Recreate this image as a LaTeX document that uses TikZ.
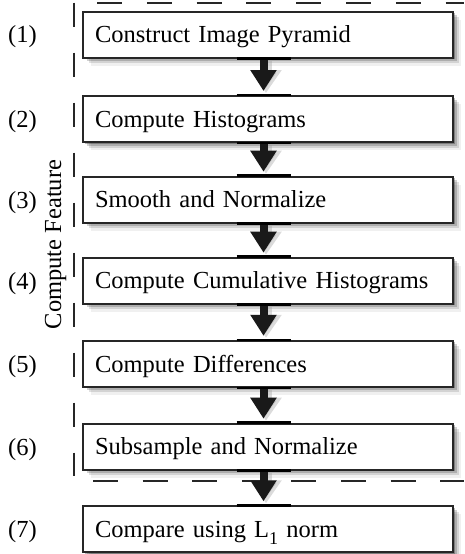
\documentclass[tikz,border=0pt]{standalone}
\usepackage{fontspec}
\setmainfont{Liberation Serif}
\usetikzlibrary{shadows,arrows.meta}
\newfontfamily\diagfont{Liberation Serif}
\tikzset{
  boxshadow/.style={
    drop shadow={shadow xshift=1.5pt, shadow yshift=-1.5pt, opacity=0.28, fill=black},
    drop shadow={shadow xshift=3.5pt, shadow yshift=-3.5pt, opacity=0.18, fill=black},
    drop shadow={shadow xshift=5.5pt, shadow yshift=-5.5pt, opacity=0.12, fill=black},
    drop shadow={shadow xshift=8pt, shadow yshift=-8pt, opacity=0.06, fill=black}},
  stepbox/.style={boxshadow, draw=black!85, line width=2pt, fill=white,
    minimum width=370pt, minimum height=46pt, text width=346pt, align=left,
    inner xsep=12pt, inner ysep=0pt, text height=16.5pt, text depth=0pt,
    font=\diagfont\fontsize{24.5}{29}\selectfont},
  numlabel/.style={anchor=base, inner sep=0pt, font=\diagfont\fontsize{24.5}{29}\selectfont},
  bigarrow/.style={draw=black!90, line width=8pt, shorten >=4pt,
    -{Triangle[width=25pt,length=21pt]}},
  arrowshadow/.style={draw=black!40, opacity=0.35, line width=12pt, shorten >=4pt,
    -{Triangle[width=30pt,length=23pt]}},
  crossbar/.style={draw=black, line width=2.6pt},
  dashline/.style={draw=black!85, line width=2pt},
}
\begin{document}
\begin{tikzpicture}[x=1pt,y=-1pt]
\useasboundingbox (0,0) rectangle (464,554);
% dashed frame
\draw[dashline, dash pattern=on 24pt off 26pt] (74,2.5) -- (74,476);
\draw[dashline, dash pattern=on 25pt off 24.8pt] (97,2.5) -- (464,2.5);
\draw[dashline, dash pattern=on 25pt off 24.6pt] (93,481) -- (464,481);
% boxes
\node[stepbox] (b1) at (268,34.5) {Construct Image Pyramid};
\node[stepbox] (b2) at (268,119) {Compute Histograms};
\node[stepbox] (b3) at (268,199.7) {Smooth and Normalize};
\node[stepbox] (b4) at (268,280.7) {Compute Cumulative Histograms};
\node[stepbox] (b5) at (268,363.8) {Compute Differences};
\node[stepbox] (b6) at (268,446.7) {Subsample and Normalize};
\node[stepbox] (b7) at (268,529.3) {Compare using L\raisebox{-6.5pt}{\fontsize{18}{18}\selectfont 1} norm};
% labels
\foreach \i/\y in {1/34.5,2/119,3/199.7,4/280.7,5/363.8,6/446.7,7/529.3}{
  \node[numlabel] (l\i) at (22.5,\y+8.3) {(\i)};
}
\node[numlabel, rotate=90] (cf) at (61,244.5) {Compute Feature};
% arrows
\foreach \a/\b in {b1/b2,b2/b3,b3/b4,b4/b5,b5/b6,b6/b7}{
  \draw[arrowshadow] ([xshift=-2pt,yshift=-2pt]\a.south) -- ([xshift=-2pt,yshift=-2pt]\b.north);
  \draw[bigarrow] ([xshift=-4.5pt]\a.south) -- ([xshift=-4.5pt]\b.north);
  \draw[crossbar] ([xshift=-31.5pt]\a.south) -- ([xshift=22.5pt]\a.south);
  \draw[crossbar] ([xshift=-31.5pt]\b.north) -- ([xshift=22.5pt]\b.north);
}
\end{tikzpicture}
\end{document}
